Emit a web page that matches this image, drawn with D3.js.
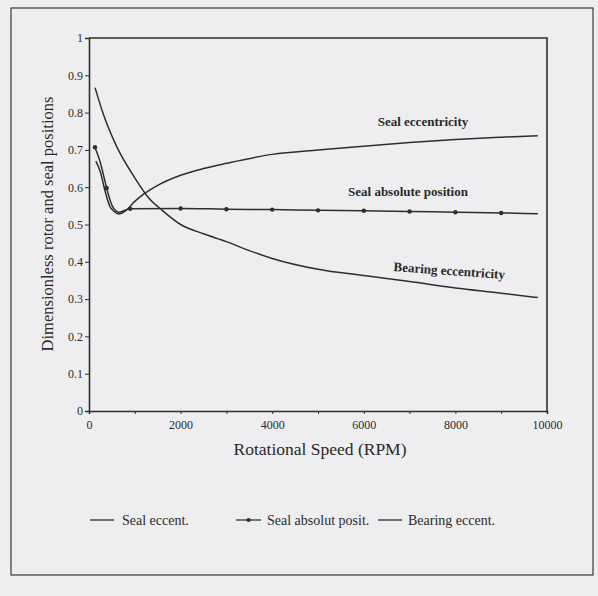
<!DOCTYPE html>
<html>
<head>
<meta charset="utf-8">
<script src="https://cdn.jsdelivr.net/npm/d3@7"></script>
<style>
  html, body { margin: 0; padding: 0; background: #eeeef0; }
  svg { display: block; }
  text { font-family: "Liberation Serif", "DejaVu Serif", serif; fill: #2a2a2a; }
</style>
</head>
<body>
<svg id="chart" width="598" height="596"></svg>
<script>
// ---- data ----
const sealEccRpm = [150, 250, 350, 450, 550, 650, 800, 1000, 1200, 1500, 2000, 2500, 3000, 4000, 5000, 6000, 7000, 8000, 9000, 9800];
const sealEccVal = [0.670, 0.640, 0.590, 0.550, 0.535, 0.528, 0.537, 0.562, 0.582, 0.605, 0.632, 0.650, 0.664, 0.688, 0.700, 0.710, 0.720, 0.728, 0.734, 0.738];

const sealAbsRpm = [130, 250, 385, 500, 650, 900, 2000, 3000, 4000, 5000, 6000, 7000, 8000, 9000, 9800];
const sealAbsVal = [0.707, 0.665, 0.598, 0.552, 0.533, 0.542, 0.543, 0.541, 0.540, 0.538, 0.537, 0.535, 0.533, 0.531, 0.529];
const sealAbsMarkerRpm = [130, 385, 900, 2000, 3000, 4000, 5000, 6000, 7000, 8000, 9000];

const bearingRpm = [131, 312, 600, 1000, 1300, 1600, 2000, 2500, 3000, 3500, 4000, 5000, 6000, 7000, 8000, 9000, 9800];
const bearingVal = [0.867, 0.796, 0.710, 0.625, 0.572, 0.538, 0.500, 0.475, 0.454, 0.430, 0.409, 0.380, 0.363, 0.347, 0.330, 0.316, 0.304];

const xTicks = [0, 1000, 2000, 3000, 4000, 5000, 6000, 7000, 8000, 9000, 10000];
const xTickLabels = ["0", "", "2000", "", "4000", "", "6000", "", "8000", "", "10000"];
const yTicks = [0, 0.1, 0.2, 0.3, 0.4, 0.5, 0.6, 0.7, 0.8, 0.9, 1];
const yTickLabels = ["0", "0.1", "0.2", "0.3", "0.4", "0.5", "0.6", "0.7", "0.8", "0.9", "1"];

const legendLabels = ["Seal eccent.", "Seal absolut posit.", "Bearing eccent."];
const annotations = ["Seal eccentricity", "Seal absolute position", "Bearing eccentricity"];

(function () {
// ---- layout ----
const svg = d3.select("#chart");
const ink = "#2e2e2e";
const pL = 89, pR = 547, pT = 38, pB = 411;

const x = d3.scaleLinear().domain([0, 10000]).range([pL, pR]);
const y = d3.scaleLinear().domain([0, 1]).range([pB, pT]);

// outer frame
svg.append("rect")
  .attr("x", 11).attr("y", 8).attr("width", 582).attr("height", 567)
  .attr("fill", "none").attr("stroke", "#3a3a3a").attr("stroke-width", 1.2);

// plot box (top and right borders)
svg.append("path")
  .attr("d", `M${pL},${pT}H${pR}V${pB}`)
  .attr("fill", "none").attr("stroke", ink).attr("stroke-width", 1.6);

// axes
const xAxis = d3.axisBottom(x).tickValues(xTicks).tickSize(3).tickPadding(6)
  .tickFormat((d, i) => xTickLabels[i]);
const gx = svg.append("g").attr("transform", `translate(0,${pB})`).call(xAxis);
gx.select(".domain").attr("stroke", ink).attr("stroke-width", 1.6);
gx.selectAll(".tick line").attr("stroke", ink).attr("stroke-width", 1);
gx.selectAll("text").attr("font-size", 12).attr("fill", "#333")
  .style("font-family", '"Liberation Serif", serif');

const yAxis = d3.axisLeft(y).tickValues(yTicks).tickSize(4).tickPadding(2)
  .tickFormat((d, i) => yTickLabels[i]);
const gy = svg.append("g").attr("transform", `translate(${pL},0)`).call(yAxis);
gy.select(".domain").attr("stroke", ink).attr("stroke-width", 1.6);
gy.selectAll(".tick line").attr("stroke", ink).attr("stroke-width", 1);
gy.selectAll("text").attr("font-size", 12).attr("fill", "#333")
  .style("font-family", '"Liberation Serif", serif');

// axis titles
svg.append("text")
  .attr("x", 320).attr("y", 455).attr("text-anchor", "middle")
  .attr("font-size", 17.5).text("Rotational Speed (RPM)");
svg.append("text")
  .attr("transform", `translate(53,224) rotate(-90)`).attr("text-anchor", "middle")
  .attr("font-size", 16.5).text("Dimensionless rotor and seal positions");

// lines
const line = d3.line().x(d => x(d[0])).y(d => y(d[1])).curve(d3.curveMonotoneX);
const series = [
  sealEccRpm.map((r, i) => [r, sealEccVal[i]]),
  sealAbsRpm.map((r, i) => [r, sealAbsVal[i]]),
  bearingRpm.map((r, i) => [r, bearingVal[i]])
];
series.forEach(s => {
  svg.append("path").attr("d", line(s))
    .attr("fill", "none").attr("stroke", ink).attr("stroke-width", 1.5);
});

// seal absolute position markers
svg.selectAll("circle.mk")
  .data(series[1].filter(d => sealAbsMarkerRpm.includes(d[0])))
  .enter().append("circle").attr("class", "mk")
  .attr("cx", d => x(d[0])).attr("cy", d => y(d[1])).attr("r", 2.2)
  .attr("fill", ink);

// annotations
svg.append("text").attr("x", 423).attr("y", 126).attr("text-anchor", "middle")
  .attr("font-size", 13).attr("font-weight", "bold").attr("fill", "#333").text(annotations[0]);
svg.append("text").attr("x", 408).attr("y", 196).attr("text-anchor", "middle")
  .attr("font-size", 13).attr("font-weight", "bold").attr("fill", "#333").text(annotations[1]);
svg.append("text").attr("transform", "translate(449,275) rotate(4)").attr("text-anchor", "middle")
  .attr("font-size", 13).attr("font-weight", "bold").attr("fill", "#333").text(annotations[2]);

// legend
const legendY = 520;
const legendItems = [
  { x1: 90, x2: 114, tx: 122, marker: false },
  { x1: 236, x2: 261, tx: 267, marker: true },
  { x1: 378, x2: 402, tx: 408, marker: false }
];
legendItems.forEach((it, i) => {
  svg.append("line").attr("x1", it.x1).attr("x2", it.x2)
    .attr("y1", legendY).attr("y2", legendY)
    .attr("stroke", ink).attr("stroke-width", 1.3);
  if (it.marker) {
    svg.append("circle").attr("cx", (it.x1 + it.x2) / 2).attr("cy", legendY).attr("r", 2)
      .attr("fill", ink);
  }
  svg.append("text").attr("x", it.tx).attr("y", legendY + 5)
    .attr("font-size", 14).attr("fill", "#333").text(legendLabels[i]);
});
})();
</script>
</body>
</html>
